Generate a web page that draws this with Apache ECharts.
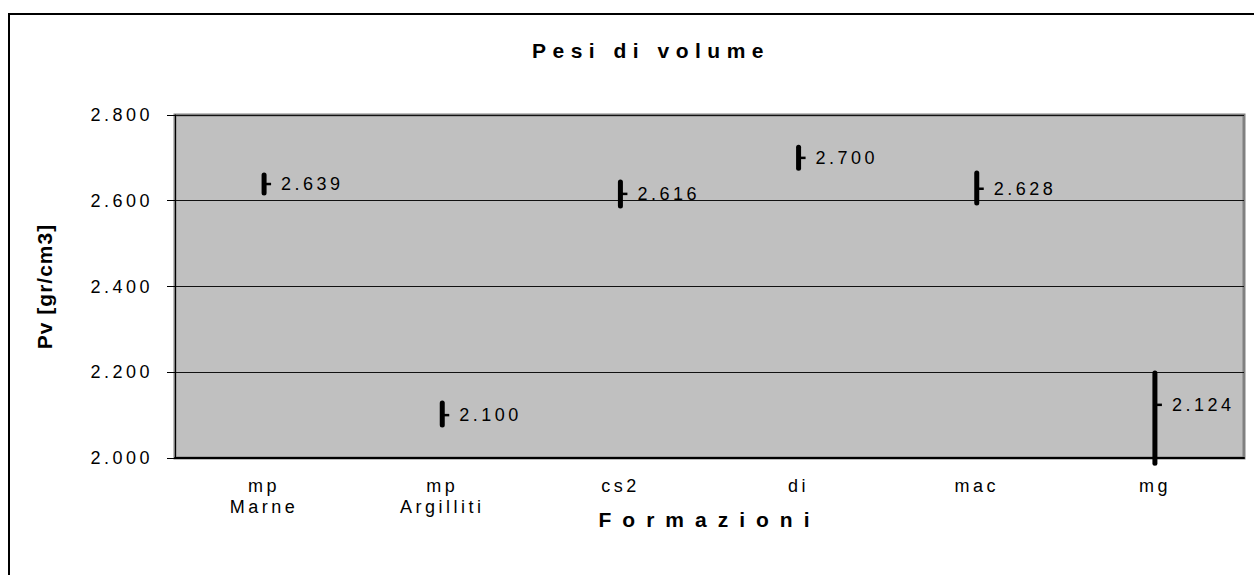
<!DOCTYPE html>
<html>
<head>
<meta charset="utf-8">
<script src="https://cdn.jsdelivr.net/npm/echarts@6/dist/echarts.min.js"></script>
<style>
html, body { margin: 0; padding: 0; background: #fff; }
#main { width: 1254px; height: 575px; }
</style>
</head>
<body>
<div id="main"></div>
<script>
// formazioni
var categories = ['mp\nMarne', 'mp\nArgilliti', 'cs2', 'di', 'mac', 'mg'];
// pesi di volume [gr/cm3]
var highs = [2.660, 2.128, 2.644, 2.725, 2.665, 2.198];
var lows = [2.618, 2.077, 2.588, 2.676, 2.595, 1.988];
var means = [2.639, 2.100, 2.616, 2.700, 2.628, 2.124];
var yTicks = [2.0, 2.2, 2.4, 2.6, 2.8];

var FONT = 'Liberation Sans, Arial, sans-serif';

var seriesData = categories.map(function (c, i) {
  return [i, lows[i], highs[i], means[i]];
});

var chart = echarts.init(document.getElementById('main'), null, { renderer: 'svg' });

var option = {
  animation: false,
  backgroundColor: '#fff',
  title: {
    text: 'Pesi di volume',
    left: 646,
    top: 35,
    textAlign: 'center',
    textStyle: { fontFamily: FONT, fontSize: 21, fontWeight: 'bold', color: '#000' }
  },
  graphic: [{
    type: 'rect',
    shape: { x: 9, y: 14, width: 1400, height: 700 },
    style: { fill: 'none', stroke: '#000', lineWidth: 2 },
    silent: true
  }],
  grid: {
    left: 175,
    right: 10,
    top: 115,
    bottom: 117,
    show: true,
    backgroundColor: '#c0c0c0',
    borderColor: '#808080',
    borderWidth: 3
  },
  xAxis: [{
    type: 'category',
    data: categories,
    boundaryGap: true,
    name: 'Formazioni',
    nameLocation: 'middle',
    nameGap: 51,
    nameMoveOverlap: false,
    nameTextStyle: { fontFamily: FONT, fontSize: 21, fontWeight: 'bold', color: '#000' },
    axisLine: { lineStyle: { color: '#000', width: 2 } },
    axisTick: { alignWithLabel: false, length: 6, lineStyle: { color: '#000', width: 1 } },
    axisLabel: { fontFamily: FONT, fontSize: 18, color: '#000', margin: 17, lineHeight: 21 },
    splitLine: { show: false }
  }, {
    // ticks crossing into the plot area
    type: 'category',
    data: categories,
    position: 'bottom',
    axisLine: { show: false },
    axisTick: { inside: true, length: 6, lineStyle: { color: '#000', width: 1 } },
    axisLabel: { show: false },
    splitLine: { show: false }
  }],
  yAxis: {
    type: 'value',
    min: yTicks[0],
    max: yTicks[yTicks.length - 1],
    interval: 0.2,
    name: 'Pv [gr/cm3]',
    nameLocation: 'middle',
    nameGap: 120,
    nameMoveOverlap: false,
    nameTextStyle: { fontFamily: FONT, fontSize: 21, fontWeight: 'bold', color: '#000' },
    axisLine: { show: true, lineStyle: { color: '#000', width: 1 } },
    axisTick: { show: true, length: 8, lineStyle: { color: '#000' } },
    axisLabel: {
      fontFamily: FONT, fontSize: 18, color: '#000', margin: 22,
      formatter: function (v) { return v.toFixed(3); }
    },
    splitLine: { show: true, lineStyle: { color: '#111', width: 1.2 } }
  },
  series: [{
    type: 'custom',
    data: seriesData,
    clip: false,
    renderItem: function (params, api) {
      var lo = api.coord([api.value(0), api.value(1)]);
      var hi = api.coord([api.value(0), api.value(2)]);
      var mid = api.coord([api.value(0), api.value(3)]);
      return {
        type: 'group',
        children: [{
          type: 'line',
          shape: { x1: lo[0], y1: lo[1], x2: hi[0], y2: hi[1] },
          style: { stroke: '#000', lineWidth: 5, lineCap: 'round' }
        }, {
          type: 'line',
          shape: { x1: mid[0], y1: mid[1], x2: mid[0] + 7, y2: mid[1] },
          style: { stroke: '#000', lineWidth: 2.5 }
        }, {
          type: 'text',
          x: mid[0] + 17,
          y: mid[1],
          style: {
            text: api.value(3).toFixed(3),
            fontFamily: FONT, fontSize: 18, fill: '#000',
            align: 'left', verticalAlign: 'middle'
          }
        }]
      };
    }
  }]
};

chart.setOption(option);

// Excel-like wide letter spacing
function spaceLetters() {
  var texts = document.querySelectorAll('#main text');
  texts.forEach(function (t) {
    var s = t.textContent;
    if (s === 'Pesi di volume') t.style.letterSpacing = '6.5px';
    else if (s === 'Formazioni') t.style.letterSpacing = '11px';
    else if (s === 'Pv [gr/cm3]') t.style.letterSpacing = '1px';
    else t.style.letterSpacing = '3.5px';
  });
}
spaceLetters();
chart.on('finished', spaceLetters);
</script>
</body>
</html>
